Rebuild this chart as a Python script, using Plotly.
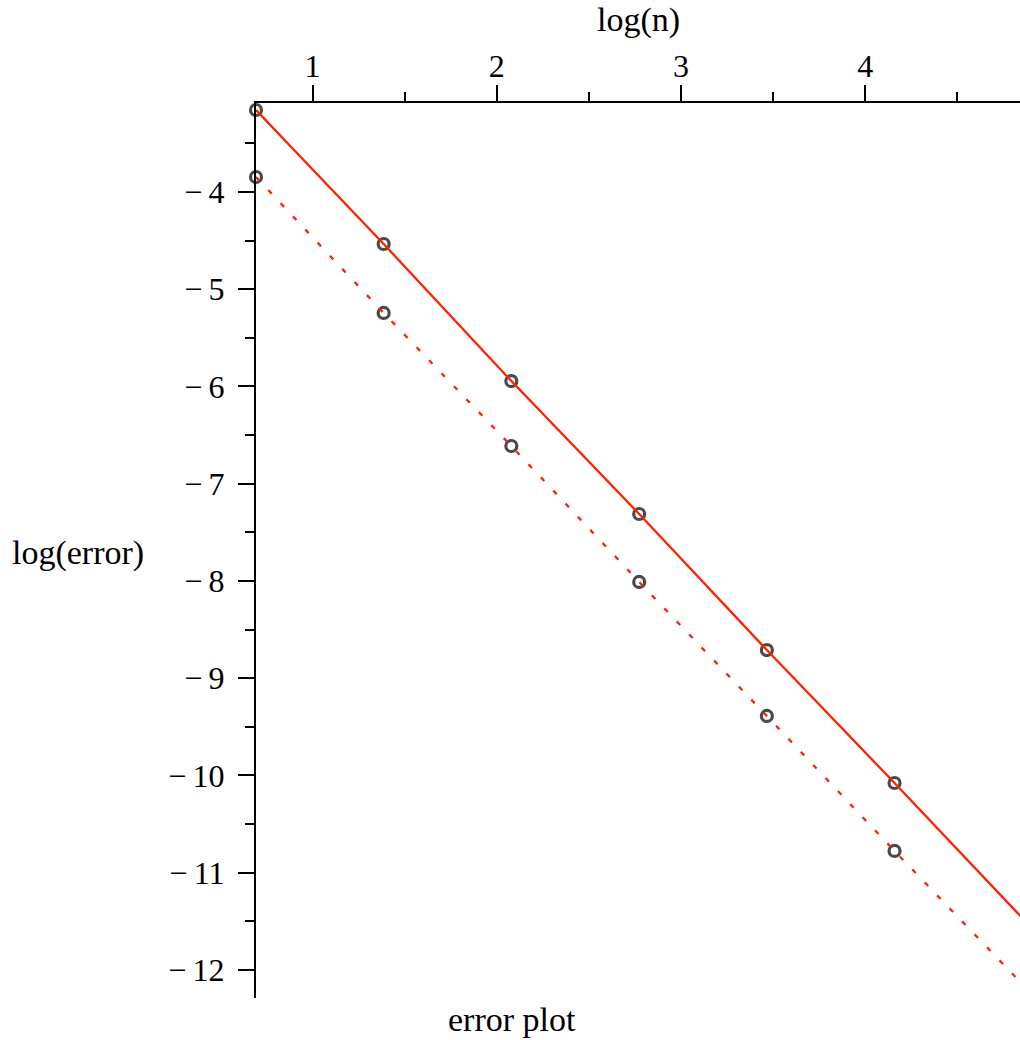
import plotly.graph_objects as go

# data
log_n = [0.693, 1.386, 2.079, 2.773, 3.466, 4.159, 4.852]
err_solid = [-3.157, -4.535, -5.944, -7.311, -8.710, -10.077, -11.465]
err_dotted = [-3.846, -5.244, -6.612, -8.010, -9.388, -10.776, -12.144]

x_ticks = [1, 2, 3, 4]
y_ticks = [-4, -5, -6, -7, -8, -9, -10, -11, -12]
y_ticklabels = ["\u2212\u2009" + str(abs(v)) for v in y_ticks]

RED = "#FF2200"
FONT = "Liberation Serif"
MARK = "#4a4a4a"

fig = go.Figure()

fig.add_trace(go.Scatter(x=log_n, y=err_solid, mode="markers", cliponaxis=False,
                         marker=dict(symbol="circle-open", size=11, color=MARK,
                                     line=dict(width=3.2, color=MARK)),
                         showlegend=False))
fig.add_trace(go.Scatter(x=log_n, y=err_dotted, mode="markers", cliponaxis=False,
                         marker=dict(symbol="circle-open", size=11, color=MARK,
                                     line=dict(width=3.2, color=MARK)),
                         showlegend=False))
fig.add_trace(go.Scatter(x=log_n, y=err_solid, mode="lines",
                         line=dict(color=RED, width=2.3), showlegend=False))
fig.add_trace(go.Scatter(x=log_n, y=err_dotted, mode="lines",
                         line=dict(color=RED, width=2.3, dash="5px,13px"), showlegend=False))

axis_common = dict(showgrid=False, zeroline=False, showline=True, linecolor="black",
                   linewidth=2, ticks="outside", ticklen=16, tickwidth=2, tickcolor="black",
                   tickfont=dict(family=FONT, size=32, color="black"))

fig.update_xaxes(range=[0.693, 4.840], side="top", tickvals=x_ticks,
                 ticktext=[str(v) for v in x_ticks],
                 minor=dict(ticks="outside", ticklen=9, tickwidth=2, tickcolor="black",
                            tickvals=[1.5, 2.5, 3.5, 4.5]),
                 ticklabelstandoff=-5,
                 **axis_common)
fig.update_yaxes(range=[-12.288, -3.085], tickvals=y_ticks, ticktext=y_ticklabels,
                 minor=dict(ticks="outside", ticklen=9, tickwidth=2, tickcolor="black",
                            tickvals=[-3.5, -4.5, -5.5, -6.5, -7.5, -8.5, -9.5, -10.5, -11.5]),
                 ticklabelstandoff=7,
                 **axis_common)

fig.update_layout(
    width=1020, height=1040,
    margin=dict(l=256, r=0, t=103, b=42),
    paper_bgcolor="white", plot_bgcolor="white",
    font=dict(family=FONT, size=34, color="black"),
    annotations=[
        dict(text="log(n)", xref="paper", yref="paper", x=0.5, y=1, yshift=62,
             xanchor="center", yanchor="bottom", showarrow=False,
             font=dict(family=FONT, size=34, color="black")),
        dict(text="log(error)", xref="paper", yref="paper", x=0, xshift=-110,
             y=0.5, yshift=-2, xanchor="right", yanchor="middle", showarrow=False,
             font=dict(family=FONT, size=34, color="black")),
        dict(text="error plot", xref="paper", yref="paper", x=0, xshift=256,
             y=0, yshift=-21, xanchor="center", yanchor="middle", showarrow=False,
             font=dict(family=FONT, size=34, color="black")),
    ],
)

fig.write_html("out.html", config={"displayModeBar": False},
               post_script="document.body.style.margin='0';document.body.style.overflow='hidden';")
